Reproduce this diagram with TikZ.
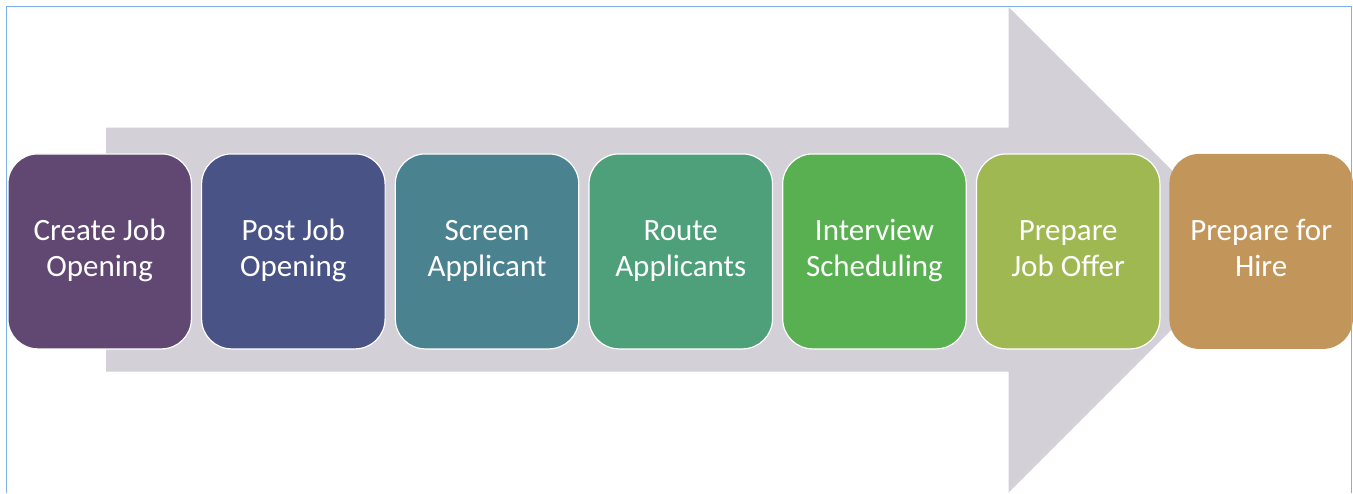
\documentclass[tikz,border=0pt]{standalone}
\usepackage{fontspec}
\setmainfont{Carlito}
\definecolor{frameblue}{RGB}{125,178,232}
\definecolor{arrowgray}{RGB}{211,208,216}
\definecolor{cA}{RGB}{96,72,115}
\definecolor{cB}{RGB}{74,83,133}
\definecolor{cC}{RGB}{74,131,143}
\definecolor{cD}{RGB}{78,160,122}
\definecolor{cE}{RGB}{88,176,80}
\definecolor{cF}{RGB}{160,184,82}
\definecolor{cG}{RGB}{194,150,90}
\newcommand{\twolines}[2]{\strut #1\\\strut #2}
\tikzset{
  stepbox/.style={shape=rectangle, rounded corners=30pt, draw=white, line width=1.2pt,
    minimum width=183.5pt, minimum height=195pt, inner sep=0pt,
    align=center, text=white, font=\fontsize{31}{36}\selectfont, anchor=north west}
}
\begin{document}
\begin{tikzpicture}[x=1pt,y=-1pt]
\useasboundingbox (0,0) rectangle (1353,493);
\fill[white] (0,0) rectangle (1353,493);
% big arrow
\fill[arrowgray] (106,127.7) -- (1008.7,127.7) -- (1008.7,7) -- (1251.4,249.7)
  -- (1008.7,492.4) -- (1008.7,371.7) -- (106,371.7) -- cycle;
% steps
\node[stepbox, fill=cA] (b1) at (7.3,153.3) {\twolines{Create Job}{Opening}};
\node[stepbox, fill=cB] (b2) at (201.0,153.3) {\twolines{Post Job}{Opening}};
\node[stepbox, fill=cC] (b3) at (394.7,153.3) {\twolines{Screen}{Applicant}};
\node[stepbox, fill=cD] (b4) at (588.4,153.3) {\twolines{Route}{Applicants}};
\node[stepbox, fill=cE] (b5) at (782.1,153.3) {\twolines{Interview}{Scheduling}};
\node[stepbox, fill=cF] (b6) at (975.8,153.3) {\twolines{Prepare}{Job Offer}};
\node[stepbox, fill=cG, draw=none] (b7) at (1168.8,153.3) {\twolines{Prepare for}{Hire}};
% frame
\draw[frameblue, line width=1.5pt] (6.7,493) -- (6.7,6.7) -- (1351.7,6.7) -- (1351.7,493);
\end{tikzpicture}
\end{document}
